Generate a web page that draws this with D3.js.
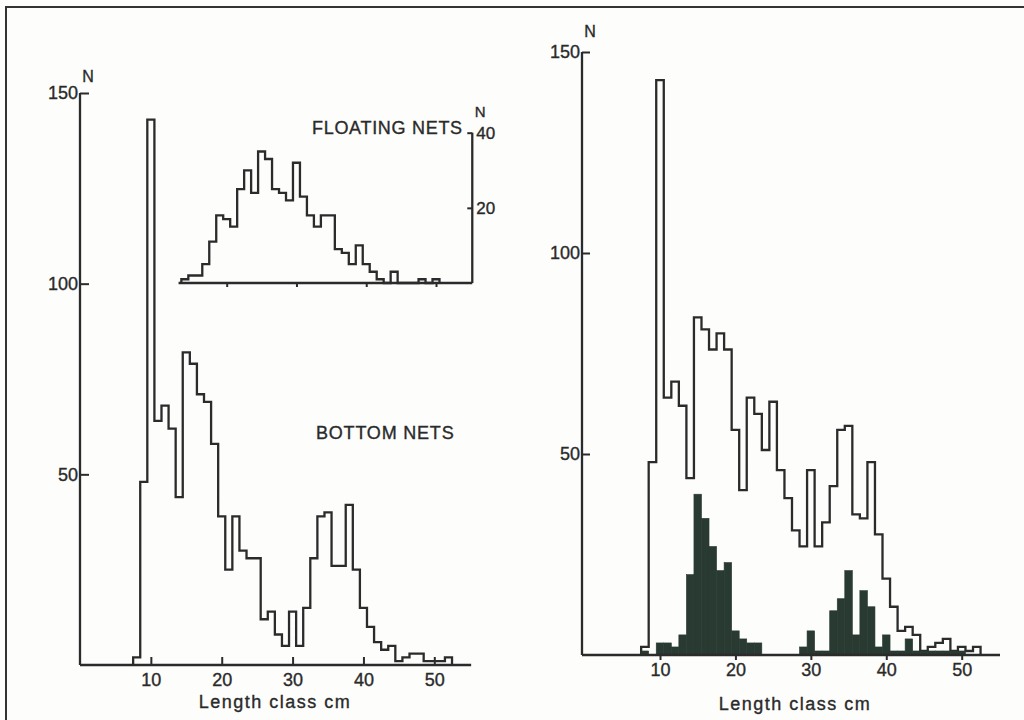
<!DOCTYPE html>
<html>
<head>
<meta charset="utf-8">
<script src="https://cdn.jsdelivr.net/npm/d3@7"></script>
<style>
  html, body { margin: 0; padding: 0; background: #fdfdfc; }
  svg { display: block; }
  text { font-family: "Liberation Sans", Arial, Helvetica, sans-serif; fill: #2a2a2a; stroke: #2a2a2a; stroke-width: 0.35px; }
</style>
</head>
<body>
<svg id="chart" width="1024" height="720"></svg>
<script>
// ---------------- DATA ----------------
// Length classes (cm, bin centres) for the bottom-net panels
const lengthClasses = d3.range(8, 53); // 8 .. 52

// Left panel: bottom nets, counts N per length class
const bottomNets = [2, 48, 143, 64, 68, 62, 44, 82, 79, 71, 69, 58, 39, 25, 39, 30, 28, 28, 12, 14,
  8, 5, 14, 5, 15, 28, 39, 40, 26, 26, 42, 25, 15, 10, 6, 4, 5, 1, 2, 3, 3, 1, 1, 1, 2];

// Inset: floating nets
const floatClasses = d3.range(14, 51); // 14 .. 50
const floatingNets = [1, 2, 2, 5, 11, 18, 17, 15, 25, 30, 24, 35, 33, 25, 24, 22, 32, 23, 18, 15,
  18, 18, 9, 8, 5, 10, 5, 3, 1, 0, 3, 0, 0, 0, 1, 0, 1];

// Right panel: total (open outline) and subset (filled)
const rightTotal = [2, 48, 143, 64, 68, 62, 44, 84, 81, 76, 80, 76, 56, 41, 64, 60, 51, 63, 46, 39,
  31, 27, 46, 27, 33, 42, 56, 57, 35, 34, 48, 30, 19, 12, 6, 7, 5, 1, 2, 3, 4, 1, 2, 1, 2];
const rightFilled = [1, 0, 3, 3, 2, 5, 20, 40, 34, 27, 21, 23, 6, 4, 3, 3, 0, 0, 0, 0,
  0, 2, 6, 1, 1, 11, 14, 21, 5, 16, 12, 2, 5, 1, 1, 4, 1, 1, 1, 1, 1, 1, 1, 0, 0];

// Axis ticks
const xTicks = [10, 20, 30, 40, 50];
const yTicks = [50, 100, 150];
const insetXTicks = [20, 30, 40, 50];
const insetYTicks = [20, 40];

// ---------------- STYLE ----------------
const ink = "#2b2b2b";
const fillDark = "#283a31";
const lw = 2.3;

const svg = d3.select("#chart");

// frame
svg.append("path")
  .attr("d", "M6,740 L6,7 L1040,7")
  .attr("fill", "none").attr("stroke", "#333").attr("stroke-width", 2);

function outlinePath(classes, values, x, y) {
  const pts = [];
  pts.push([classes[0] - 0.5, 0]);
  classes.forEach((c, i) => {
    pts.push([c - 0.5, values[i]]);
    pts.push([c + 0.5, values[i]]);
  });
  pts.push([classes[classes.length - 1] + 0.5, 0]);
  return d3.line().x(d => x(d[0])).y(d => y(d[1]))(pts);
}

function styleAxis(g, fontSize) {
  g.selectAll("path.domain").attr("stroke", ink).attr("stroke-width", lw);
  g.selectAll(".tick line").attr("stroke", ink).attr("stroke-width", 2);
  g.selectAll(".tick text").attr("fill", ink).style("font-size", fontSize + "px")
    .style("font-family", '"Liberation Sans", Arial, sans-serif');
}

// ================= LEFT PANEL =================
const xL = d3.scaleLinear().domain([0, 50]).range([80, 434.3]);
const yL = d3.scaleLinear().domain([0, 150]).range([665, 93]);

const gyL = svg.append("g").attr("transform", `translate(${xL(0)},0)`)
  .call(d3.axisLeft(yL).tickValues(yTicks).tickSize(-9).tickSizeOuter(0).tickPadding(2));
styleAxis(gyL, 18);
gyL.select("path.domain").attr("d", `M0,${yL(0)}V${yL(150)}`);

const gxL = svg.append("g").attr("transform", `translate(0,${yL(0)})`)
  .call(d3.axisBottom(xL).tickValues(xTicks).tickSize(-8).tickSizeOuter(0).tickPadding(8));
styleAxis(gxL, 18);
gxL.select("path.domain").attr("d", `M${xL(0)},0H${xL(55.2)}`);

svg.append("path")
  .attr("d", outlinePath(lengthClasses, bottomNets, xL, yL))
  .attr("fill", "none").attr("stroke", ink).attr("stroke-width", lw)
  .attr("stroke-linejoin", "miter");

svg.append("text").attr("x", xL(0) + 8).attr("y", 82).attr("text-anchor", "middle")
  .style("font-size", "16px").text("N");
svg.append("text").attr("x", 275).attr("y", 708).attr("text-anchor", "middle")
  .style("font-size", "18px").style("letter-spacing", "1.5px").text("Length class cm");
svg.append("text").attr("x", 316).attr("y", 439)
  .style("font-size", "18px").style("letter-spacing", "0.8px").text("BOTTOM NETS");

// ================= INSET (floating nets) =================
const xI = d3.scaleLinear().domain([20, 50]).range([226.7, 436]);
const yI = d3.scaleLinear().domain([0, 40]).range([283, 132.7]);

const gxI = svg.append("g").attr("transform", `translate(0,${yI(0)})`)
  .call(d3.axisBottom(xI).tickValues(insetXTicks).tickSize(4).tickSizeOuter(0).tickFormat(""));
styleAxis(gxI, 14);
gxI.select("path.domain").attr("d", `M${xI(13.1)},0H${xI(55.2)}`);

const gyI = svg.append("g").attr("transform", `translate(${xI(55.2)},0)`)
  .call(d3.axisRight(yI).tickValues(insetYTicks).tickSize(-5).tickSizeOuter(0).tickPadding(4));
styleAxis(gyI, 17);
gyI.select("path.domain").attr("d", `M0,${yI(0)}V${yI(40)}`);

svg.append("path")
  .attr("d", outlinePath(floatClasses, floatingNets, xI, yI))
  .attr("fill", "none").attr("stroke", ink).attr("stroke-width", lw);

svg.append("text").attr("x", xI(55.2) + 8).attr("y", 117).attr("text-anchor", "middle")
  .style("font-size", "15px").text("N");
svg.append("text").attr("x", 312).attr("y", 134)
  .style("font-size", "18px").style("letter-spacing", "0.7px").text("FLOATING NETS");

// ================= RIGHT PANEL =================
const xR = d3.scaleLinear().domain([10, 50]).range([660, 961.7]);
const yR = d3.scaleLinear().domain([0, 150]).range([655, 52]);
const axisXR = 582;

const gyR = svg.append("g").attr("transform", `translate(${axisXR},0)`)
  .call(d3.axisLeft(yR).tickValues(yTicks).tickSize(-8).tickSizeOuter(0).tickPadding(2));
styleAxis(gyR, 18);
gyR.select("path.domain").attr("d", `M0,${yR(0)}V${yR(150)}`);

svg.append("path")
  .attr("d", outlinePath(lengthClasses, rightTotal, xR, yR))
  .attr("fill", "none").attr("stroke", ink).attr("stroke-width", lw);

svg.append("g").selectAll("rect")
  .data(lengthClasses.map((c, i) => ({ c, v: rightFilled[i] })).filter(d => d.v > 0))
  .join("rect")
  .attr("x", d => xR(d.c - 0.5))
  .attr("width", d => xR(d.c + 0.5) - xR(d.c - 0.5))
  .attr("y", d => yR(d.v))
  .attr("height", d => yR(0) - yR(d.v))
  .attr("fill", fillDark)
  .attr("stroke", fillDark).attr("stroke-width", 0.6);

const gxR = svg.append("g").attr("transform", `translate(0,${yR(0)})`)
  .call(d3.axisBottom(xR).tickValues(xTicks).tickSize(5).tickSizeOuter(0).tickPadding(3));
styleAxis(gxR, 18);
gxR.select("path.domain").attr("d", `M${axisXR},0H1000`);

svg.append("text").attr("x", axisXR + 8).attr("y", 37).attr("text-anchor", "middle")
  .style("font-size", "16px").text("N");
svg.append("text").attr("x", 795).attr("y", 710).attr("text-anchor", "middle")
  .style("font-size", "18px").style("letter-spacing", "1.5px").text("Length class cm");
</script>
</body>
</html>
